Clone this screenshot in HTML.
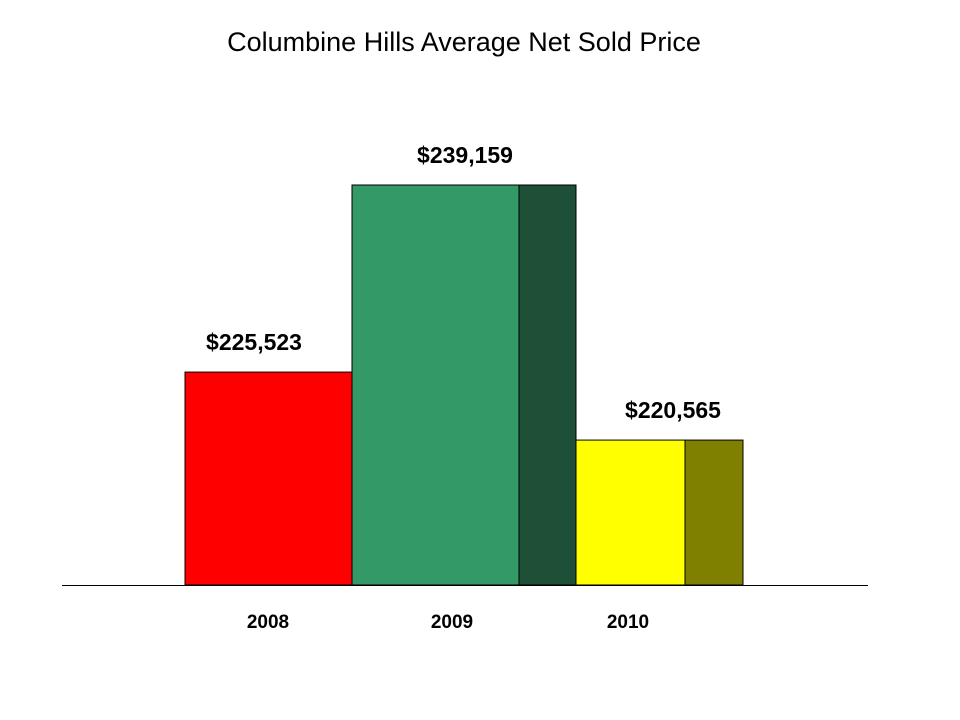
<!DOCTYPE html>
<html><head><meta charset="utf-8"><style>
html,body{margin:0;padding:0;background:#fff;}
svg{display:block;font-family:"Liberation Sans",Arial,sans-serif;}
</style></head><body>
<svg id="chart" width="960" height="720">
<text x="464" y="51" text-anchor="middle" font-size="27">Columbine Hills Average Net Sold Price</text>
<g id="bars"></g>
<line x1="62" y1="585.5" x2="868" y2="585.5" stroke="#000" stroke-width="1"/>
</svg>
<script>
const categories = ["2008","2009","2010"];
const values = [225523, 239159, 220565];
const valueLabels = ["$225,523","$239,159","$220,565"];
const frontColors = ["#ff0000","#339966","#ffff00"];
const sideColors = ["#800000","#1e5038","#808000"];
// layout
const baseY = 585, baseVal = 210000, pxPer = 400/29159;
const frontX = [185,352,576], frontW = [167,167,109], sideW = [0,57,58];
const labelCx = [254,465,673], yearCx = [268,452,628];
function y(v){return baseY - (v-baseVal)*pxPer;}
const NS="http://www.w3.org/2000/svg";
const g=document.getElementById('bars');
function mk(tag,attrs){const e=document.createElementNS(NS,tag);for(const k in attrs)e.setAttribute(k,attrs[k]);g.appendChild(e);return e;}
categories.forEach((c,i)=>{
  const top=y(values[i]);
  if(sideW[i]>0){
    const s=mk('rect',{x:frontX[i]+frontW[i],y:top,width:sideW[i],height:baseY-top,fill:sideColors[i],stroke:'#000','stroke-width':1});
    
    
  }
  const r=mk('rect',{x:frontX[i],y:top,width:frontW[i],height:baseY-top,fill:frontColors[i],stroke:'#000','stroke-width':1});
  
  
  const t=mk('text',{x:labelCx[i],y:top-22,'text-anchor':'middle','font-size':23,'font-weight':'bold'});
  t.textContent=valueLabels[i];
  
  
  const yl=mk('text',{x:yearCx[i],y:628,'text-anchor':'middle','font-size':19,'font-weight':'bold'});
  yl.textContent=c;
  
  
});
</script>
</body></html>
